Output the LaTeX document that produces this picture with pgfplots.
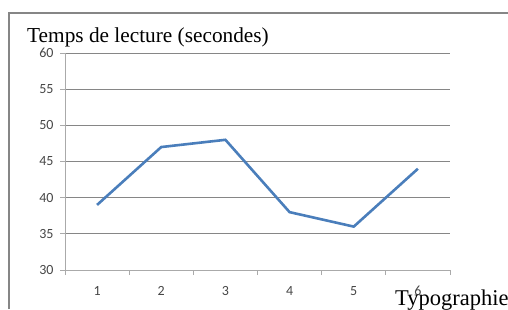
\documentclass[border=0pt]{standalone}
\usepackage{fontspec}
\setmainfont{Liberation Serif}
\newfontfamily\calibri{Carlito}
\usepackage{pgfplots}
\pgfplotsset{compat=1.18}
\definecolor{excelblue}{RGB}{74,126,187}
\definecolor{gridgray}{RGB}{134,134,134}
\definecolor{axisgray}{RGB}{170,170,170}
\definecolor{labelgray}{RGB}{70,70,70}
\begin{document}
\begin{tikzpicture}
\path[use as bounding box] (0pt,0pt) rectangle (508pt,-309pt);
\draw[gridgray, line width=1.1pt] (9pt,-309pt) -- (9pt,-13pt) -- (508pt,-13pt);
\begin{axis}[
  at={(65pt,-270pt)}, anchor=south west,
  scale only axis, width=385pt, height=217pt,
  xmin=0.5, xmax=6.5, ymin=30, ymax=60,
  axis x line*=bottom, axis y line*=left,
  axis line style={axisgray, line width=0.9pt},
  xtick={1,2,3,4,5,6},
  major x tick style={draw=none},
  minor xtick={0.5,1.5,2.5,3.5,4.5,5.5,6.5},
  minor x tick style={draw=axisgray, line width=0.9pt},
  minor tick length=5pt,
  ytick={30,35,40,45,50,55,60},
  major y tick style={draw=axisgray, line width=0.9pt},
  tick align=outside, major tick length=5pt,
  ymajorgrids,
  major grid style={gridgray, line width=0.8pt},
  /pgf/number format/assume math mode=true,
  tick label style={font=\calibri\fontsize{14}{16}\selectfont, text=labelgray},
  xticklabel style={anchor=north, yshift=-8pt},
  yticklabel style={anchor=east, xshift=-3pt},
  clip=false,
]
\addplot[excelblue, line width=2.6pt, mark=none] coordinates {
  (1,39) (2,47) (3,48) (4,38) (5,36) (6,44)
};
\end{axis}
\node[anchor=base west, inner sep=0pt, font=\fontsize{21.3}{23}\selectfont] at (27pt,-42pt) {Temps de lecture (secondes)};
\node[anchor=base west, inner sep=0pt, font=\fontsize{22.5}{24}\selectfont] at (395pt,-305pt) {Typographie};
\end{tikzpicture}
\end{document}
